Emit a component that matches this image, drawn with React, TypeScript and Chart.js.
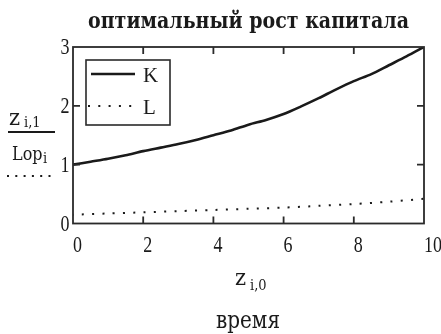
import React, { useEffect, useRef } from "react";
import { Chart, registerables } from "chart.js";

Chart.register(...registerables);

const TIME = [0, 0.5, 1, 1.5, 2, 2.5, 3, 3.5, 4, 4.5, 5, 5.5, 6, 6.5, 7, 7.5, 8, 8.5, 9, 9.5, 10];
const K_VALUES = [1.0, 1.05, 1.1, 1.16, 1.23, 1.29, 1.35, 1.42, 1.5, 1.58, 1.68, 1.76, 1.86, 1.99, 2.13, 2.28, 2.42, 2.54, 2.69, 2.84, 3.0];
const L_TIME = [0, 1, 2, 3, 4, 5, 6, 7, 8, 9, 10];
const L_VALUES = [0.15, 0.17, 0.19, 0.21, 0.23, 0.25, 0.27, 0.3, 0.33, 0.37, 0.42];
const X_TICKS = [0, 2, 4, 6, 8, 10];
const Y_TICKS = [0, 1, 2, 3];
const SERIES_LABELS = ["K", "L"];
const TITLE = "оптимальный рост капитала";
const X_TITLE = "время";

const INK = "#1a1a1a";
const SERIF = "'Liberation Serif', 'Times New Roman', serif";
const WIDE = "'DejaVu Serif', serif";

function txt(
  ctx: CanvasRenderingContext2D,
  s: string,
  x: number,
  y: number,
  font: string,
  align: CanvasTextAlign,
  sx = 1,
  sy = 1
) {
  ctx.save();
  ctx.translate(x, y);
  ctx.scale(sx, sy);
  ctx.font = font;
  ctx.textAlign = align;
  ctx.textBaseline = "alphabetic";
  ctx.fillText(s, 0, 0);
  ctx.restore();
}

const decorPlugin = {
  id: "decor",
  afterDatasetsDraw(chart: any) {
    const ctx = chart.ctx as CanvasRenderingContext2D;
    const ca = chart.chartArea;
    const xs = chart.scales.x;
    const ys = chart.scales.y;
    ctx.save();
    // frame
    ctx.strokeStyle = "#2a2a2a";
    ctx.lineWidth = 1.8;
    ctx.strokeRect(ca.left, ca.top, ca.right - ca.left, ca.bottom - ca.top);
    // inward ticks
    const tl = 7;
    X_TICKS.slice(1, -1).forEach((v) => {
      const px = xs.getPixelForValue(v);
      ctx.beginPath();
      ctx.moveTo(px, ca.bottom);
      ctx.lineTo(px, ca.bottom - tl);
      ctx.moveTo(px, ca.top);
      ctx.lineTo(px, ca.top + tl);
      ctx.stroke();
    });
    Y_TICKS.slice(1, -1).forEach((v) => {
      const py = ys.getPixelForValue(v);
      ctx.beginPath();
      ctx.moveTo(ca.left, py);
      ctx.lineTo(ca.left + tl, py);
      ctx.moveTo(ca.right, py);
      ctx.lineTo(ca.right - tl, py);
      ctx.stroke();
    });

    ctx.fillStyle = INK;
    // tick labels (from scale values)
    X_TICKS.forEach((v) => {
      txt(ctx, String(v), xs.getPixelForValue(v), 252, `18px ${SERIF}`, "left", 1, 1.25);
    });
    Y_TICKS.forEach((v) => {
      txt(ctx, String(v), ca.left - 3.5, ys.getPixelForValue(v) + 7, `18px ${SERIF}`, "right", 1, 1.25);
    });

    // legend box
    const bx = ca.left + 13;
    const by = ca.top + 13;
    const bw = 84;
    const bh = 65;
    ctx.fillStyle = "#fff";
    ctx.fillRect(bx, by, bw, bh);
    ctx.strokeStyle = "#2a2a2a";
    ctx.lineWidth = 1.6;
    ctx.strokeRect(bx, by, bw, bh);
    ctx.strokeStyle = INK;
    ctx.lineWidth = 2.6;
    ctx.beginPath();
    ctx.moveTo(bx + 5, by + 14);
    ctx.lineTo(bx + 49, by + 14);
    ctx.stroke();
    ctx.lineWidth = 2;
    ctx.setLineDash([2, 8.3]);
    ctx.beginPath();
    ctx.moveTo(bx + 2, by + 46);
    ctx.lineTo(bx + 49, by + 46);
    ctx.stroke();
    ctx.setLineDash([]);
    ctx.fillStyle = INK;
    txt(ctx, SERIES_LABELS[0], bx + 57, by + 22, `21px ${SERIF}`, "left");
    txt(ctx, SERIES_LABELS[1], bx + 57, by + 54, `21px ${SERIF}`, "left");

    // title
    txt(ctx, TITLE, (ca.left + ca.right) / 2, 28, `bold 19px ${WIDE}`, "center", 1, 1.2);

    // y axis title: z_{i,1} / Lop_i
    txt(ctx, "z", 9, 125, `21px ${WIDE}`, "left", 1, 1.1);
    txt(ctx, "i,1", 24, 127, `13px ${WIDE}`, "left", 1, 1.15);
    ctx.strokeStyle = INK;
    ctx.lineWidth = 2;
    ctx.beginPath();
    ctx.moveTo(8, 132);
    ctx.lineTo(55, 132);
    ctx.stroke();
    txt(ctx, "Lop", 12, 160, `16px ${WIDE}`, "left", 1, 1.2);
    txt(ctx, "i", 43, 163, `13px ${WIDE}`, "left", 1, 1.15);
    ctx.lineWidth = 2;
    ctx.setLineDash([2, 6.3]);
    ctx.beginPath();
    ctx.moveTo(7, 176);
    ctx.lineTo(52, 176);
    ctx.stroke();
    ctx.setLineDash([]);

    // x axis title: z_{i,0} and время
    txt(ctx, "z", 235, 285, `21px ${WIDE}`, "left", 1, 1.1);
    txt(ctx, "i,0", 250, 290, `13px ${WIDE}`, "left", 1, 1.15);
    txt(ctx, X_TITLE, 248, 328, `20px ${WIDE}`, "center", 1, 1.2);
    ctx.restore();
  },
};

export default function App() {
  const ref = useRef<HTMLCanvasElement | null>(null);
  useEffect(() => {
    document.body.style.margin = "0";
    const canvas = ref.current;
    if (!canvas) return;
    const chart = new Chart(canvas, {
      type: "line",
      data: {
        datasets: [
          {
            label: SERIES_LABELS[0],
            data: TIME.map((t, i) => ({ x: t, y: K_VALUES[i] })),
            borderColor: INK,
            borderWidth: 2.6,
            pointRadius: 0,
            tension: 0.3,
            fill: false,
          },
          {
            label: SERIES_LABELS[1],
            data: L_TIME.map((t, i) => ({ x: t, y: L_VALUES[i] })),
            borderColor: INK,
            borderWidth: 2,
            borderDash: [2, 8.3],
            borderDashOffset: 1.5,
            pointRadius: 0,
            tension: 0.3,
            fill: false,
          },
        ],
      },
      options: {
        animation: false,
        responsive: false,
        devicePixelRatio: 1,
        layout: { padding: { left: 0, top: 47, right: 17, bottom: 0 } },
        plugins: {
          legend: { display: false },
          title: { display: false },
          tooltip: { enabled: false },
        },
        scales: {
          x: {
            type: "linear",
            min: 0,
            max: 10,
            grid: { display: false, drawTicks: false },
            border: { display: false },
            afterFit: (s: any) => {
              s.height = 110.5;
            },
            afterBuildTicks: (s: any) => {
              s.ticks = X_TICKS.map((v) => ({ value: v }));
            },
            ticks: { display: false },
          },
          y: {
            type: "linear",
            min: 0,
            max: 3,
            grid: { display: false, drawTicks: false },
            border: { display: false },
            afterFit: (s: any) => {
              s.width = 73;
            },
            afterBuildTicks: (s: any) => {
              s.ticks = Y_TICKS.map((v) => ({ value: v }));
            },
            ticks: { display: false },
          },
        },
      },
      plugins: [decorPlugin],
    });
    return () => chart.destroy();
  }, []);
  return <canvas ref={ref} width={441} height={334} style={{ display: "block" }} />;
}
